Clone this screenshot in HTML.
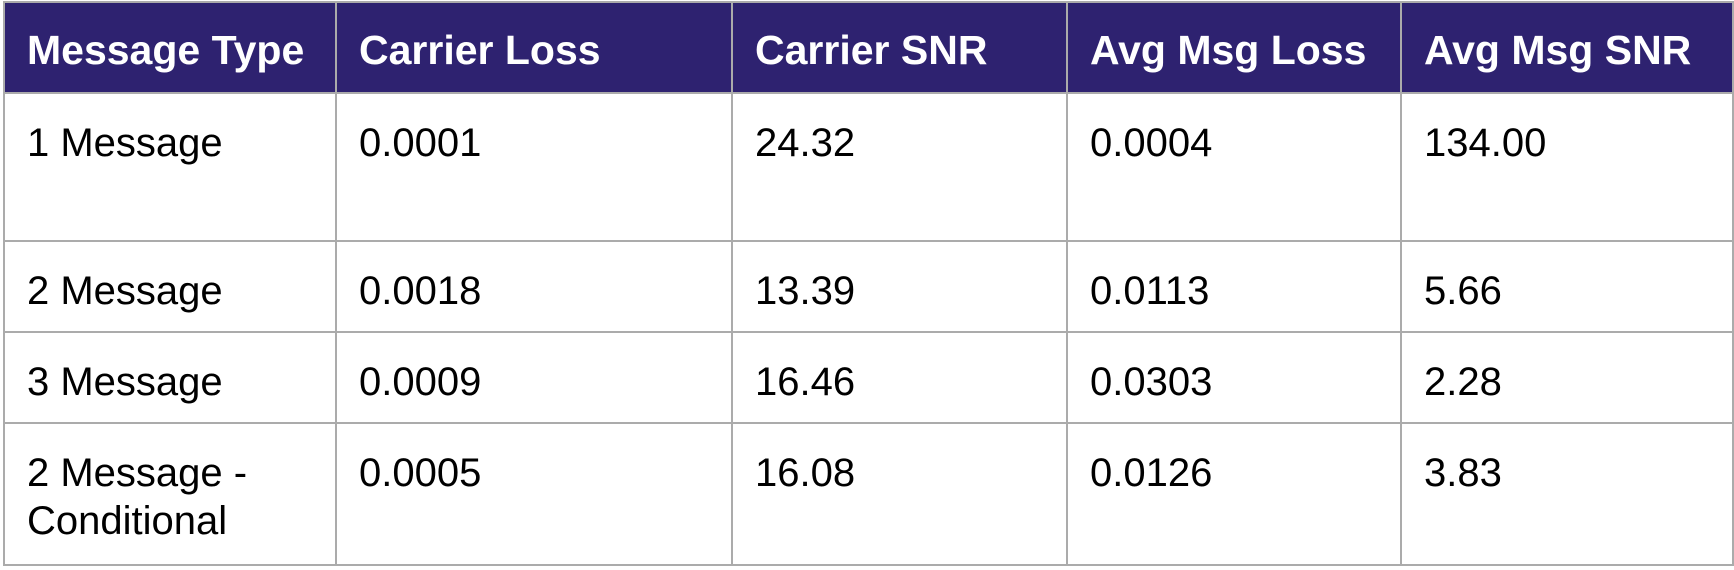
<!DOCTYPE html>
<html><head><meta charset="utf-8"><style>
html,body{margin:0;padding:0;background:#fff;width:1734px;height:570px;overflow:hidden}
table{position:absolute;left:3px;top:1px;border-collapse:collapse;table-layout:fixed;font-family:"Liberation Sans",Arial,sans-serif;font-size:40px}
td,th{border:2px solid #ababab;padding:19px 0 0 22px;vertical-align:top;text-align:left;line-height:48px;box-sizing:border-box}
th{background:#2e2270;color:#fff;font-weight:bold;padding-top:23px;font-size:41px}
td{color:#000;padding-top:25px}
</style></head><body>
<table>
<colgroup><col style="width:332px"><col style="width:396px"><col style="width:335px"><col style="width:334px"><col style="width:332px"></colgroup>
<tr style="height:91px">
<th>Message Type</th>
<th>Carrier Loss</th>
<th>Carrier SNR</th>
<th>Avg Msg Loss</th>
<th>Avg Msg SNR</th>
</tr>
<tr style="height:148px">
<td>1 Message</td><td>0.0001</td><td>24.32</td><td>0.0004</td><td>134.00</td>
</tr>
<tr style="height:91px">
<td>2 Message</td><td>0.0018</td><td>13.39</td><td>0.0113</td><td>5.66</td>
</tr>
<tr style="height:91px">
<td>3 Message</td><td>0.0009</td><td>16.46</td><td>0.0303</td><td>2.28</td>
</tr>
<tr style="height:142px">
<td>2 Message -<br>Conditional</td><td>0.0005</td><td>16.08</td><td>0.0126</td><td>3.83</td>
</tr>
</table>
</body></html>
